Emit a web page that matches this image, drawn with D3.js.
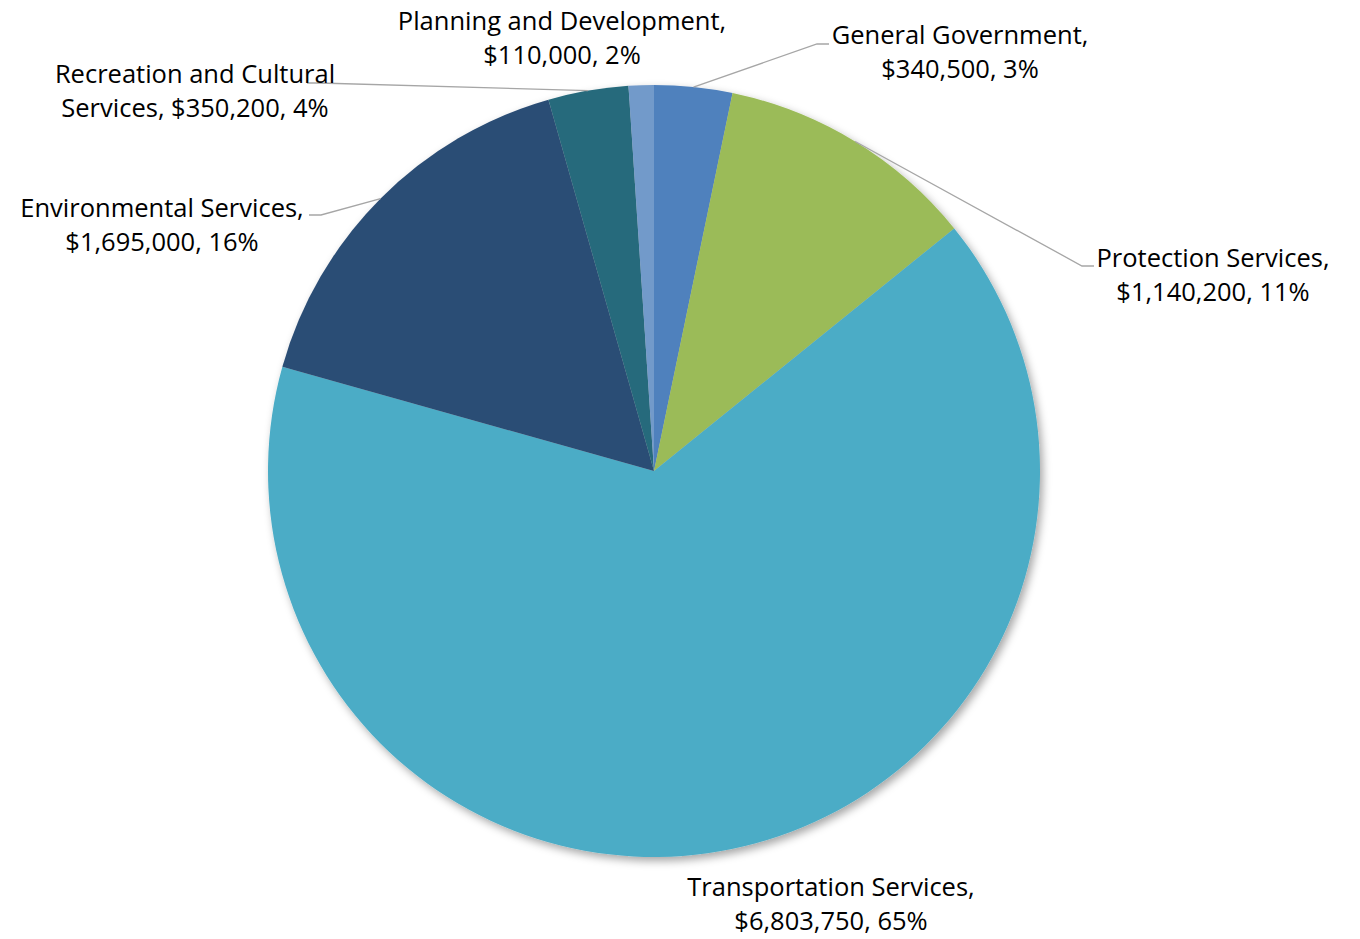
<!DOCTYPE html>
<html>
<head>
<meta charset="utf-8">
<script src="https://cdn.jsdelivr.net/npm/d3@7"></script>
<style>
  html, body { margin: 0; padding: 0; background: #ffffff; }
  svg { display: block; }
  .lbl { font-family: "Open Sans", Lato, sans-serif; font-size: 25.5px; fill: #000000; }
</style>
</head>
<body>
<svg id="chart" width="1360" height="939"></svg>
<script>
// Budget by service area (clockwise from 12 o'clock)
const categories = [
  "General Government",
  "Protection Services",
  "Transportation Services",
  "Environmental Services",
  "Recreation and Cultural Services",
  "Planning and Development"
];
const amounts = [340500, 1140200, 6803750, 1695000, 350200, 110000];
const percentLabels = ["3%", "11%", "65%", "16%", "4%", "2%"];
const sliceColors = ["#4F81BD", "#9BBB59", "#4BACC6", "#2C4D75", "#276A7C", "#729ACA"];

// Label text lines per category
const labelLines = [
  ["General Government,", "$340,500, 3%"],
  ["Protection Services,", "$1,140,200, 11%"],
  ["Transportation Services,", "$6,803,750, 65%"],
  ["Environmental Services,", "$1,695,000, 16%"],
  ["Recreation and Cultural", "Services, $350,200, 4%"],
  ["Planning and Development,", "$110,000, 2%"]
];

// Label placement: centre x, first baseline y, and leader-line attachment (null = no leader)
const labelLayout = [
  { x: 960,  y: 44,  leader: { x: 829, y: 44, side: "left" } },
  { x: 1213, y: 267, leader: { x: 1094, y: 266, side: "left" } },
  { x: 831,  y: 896, leader: null },
  { x: 162,  y: 217, leader: { x: 309, y: 215, side: "right" } },
  { x: 195,  y: 83,  leader: { x: 307, y: 83, side: "right" } },
  { x: 562,  y: 30,  leader: null }
];

const width = 1360, height = 939;
const cx = 654, cy = 471, radius = 386;
const lineGap = 34;

const svg = d3.select("#chart");

const defs = svg.append("defs");
const shadow = defs.append("filter")
  .attr("id", "pieShadow")
  .attr("x", "-10%").attr("y", "-10%")
  .attr("width", "120%").attr("height", "120%");
shadow.append("feDropShadow")
  .attr("dx", 3).attr("dy", 4)
  .attr("stdDeviation", 4)
  .attr("flood-color", "#000000")
  .attr("flood-opacity", 0.35);

const data = categories.map((c, i) => ({
  category: c,
  amount: amounts[i],
  color: sliceColors[i],
  lines: labelLines[i],
  layout: labelLayout[i]
}));

const pie = d3.pie()
  .value(d => d.amount)
  .sort(null)
  .startAngle(0)
  .endAngle(2 * Math.PI);

const arcs = pie(data);

const arc = d3.arc().innerRadius(0).outerRadius(radius);

const g = svg.append("g").attr("transform", `translate(${cx},${cy})`);

g.append("g")
  .attr("filter", "url(#pieShadow)")
  .selectAll("path")
  .data(arcs)
  .join("path")
  .attr("d", arc)
  .attr("fill", d => d.data.color);

// Leader lines from the slice edge to the label
const edge = d3.arc().innerRadius(radius).outerRadius(radius);
const leaders = svg.append("g")
  .attr("fill", "none")
  .attr("stroke", "#A6A6A6")
  .attr("stroke-width", 1.3);

arcs.forEach(a => {
  const L = a.data.layout.leader;
  if (!L) return;
  const [ex, ey] = edge.centroid(a);
  const sx = cx + ex, sy = cy + ey;
  const elbowX = L.side === "left" ? L.x - 12 : L.x + 12;
  leaders.append("path")
    .attr("d", d3.line()([[sx, sy], [elbowX, L.y], [L.x, L.y]]));
});

// Data labels
const labels = svg.append("g");
arcs.forEach(a => {
  const lay = a.data.layout;
  const t = labels.append("text")
    .attr("class", "lbl")
    .attr("text-anchor", "middle");
  a.data.lines.forEach((line, k) => {
    t.append("tspan")
      .attr("x", lay.x)
      .attr("y", lay.y + k * lineGap)
      .text(line);
  });
});
</script>
</body>
</html>
